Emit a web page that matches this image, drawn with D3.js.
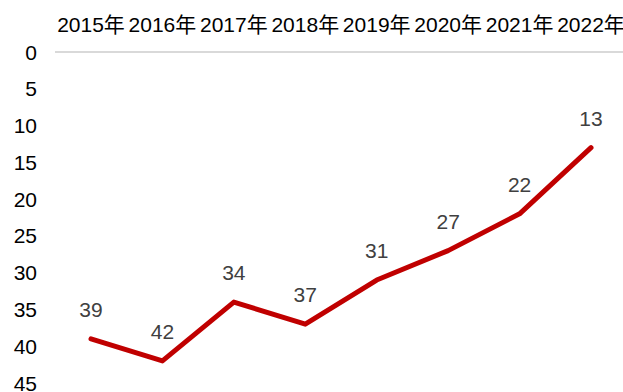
<html>
<head>
    <script src="https://d3js.org/d3.v7.min.js"></script>
    <style>
        body { margin: 0; background: #fff; }
        text { font-family: Arial, "Liberation Sans", "Noto Sans CJK SC", sans-serif; }
    </style>
</head>
<body>
    <div id="cont"></div>
    <script>
        var years = ["2015年", "2016年", "2017年", "2018年", "2019年", "2020年", "2021年", "2022年"];
        var values = [39, 42, 34, 37, 31, 27, 22, 13];
        var yTicks = [0, 5, 10, 15, 20, 25, 30, 35, 40, 45];

        var width = 623, height = 392;
        var fs = 21;

        var svg = d3.select("#cont").append("svg")
            .attr("width", width)
            .attr("height", height);

        var x = d3.scalePoint()
            .domain(years)
            .range([91, 591]);

        // reversed axis: 0 on top
        var y = d3.scaleLinear()
            .domain([0, 45])
            .range([52, 383]);

        // top axis line
        svg.append("line")
            .attr("x1", 55)
            .attr("x2", 623)
            .attr("y1", y(0))
            .attr("y2", y(0))
            .attr("stroke", "#d9d9d9")
            .attr("stroke-width", 2);

        // category labels on top
        svg.selectAll(".xlab")
            .data(years)
            .enter()
            .append("text")
            .attr("class", "xlab")
            .attr("x", function (d) { return x(d); })
            .attr("y", 32)
            .attr("text-anchor", "middle")
            .attr("font-size", fs)
            .attr("fill", "#000")
            .text(function (d) { return d; });

        // y tick labels
        svg.selectAll(".ylab")
            .data(yTicks)
            .enter()
            .append("text")
            .attr("class", "ylab")
            .attr("x", 37)
            .attr("y", function (d) { return y(d); })
            .attr("dy", "0.36em")
            .attr("text-anchor", "end")
            .attr("font-size", fs)
            .attr("fill", "#000")
            .text(function (d) { return d; });

        var line = d3.line()
            .x(function (d, i) { return x(years[i]); })
            .y(function (d) { return y(d); });

        svg.append("path")
            .datum(values)
            .attr("d", line)
            .attr("fill", "none")
            .attr("stroke", "#c00000")
            .attr("stroke-width", 5)
            .attr("stroke-linejoin", "round")
            .attr("stroke-linecap", "round");

        // value labels
        svg.selectAll(".vlab")
            .data(values)
            .enter()
            .append("text")
            .attr("class", "vlab")
            .attr("x", function (d, i) { return x(years[i]); })
            .attr("y", function (d) { return y(d) - 22; })
            .attr("text-anchor", "middle")
            .attr("font-size", fs)
            .attr("fill", "#404040")
            .text(function (d) { return d; });
    </script>
</body>
</html>
